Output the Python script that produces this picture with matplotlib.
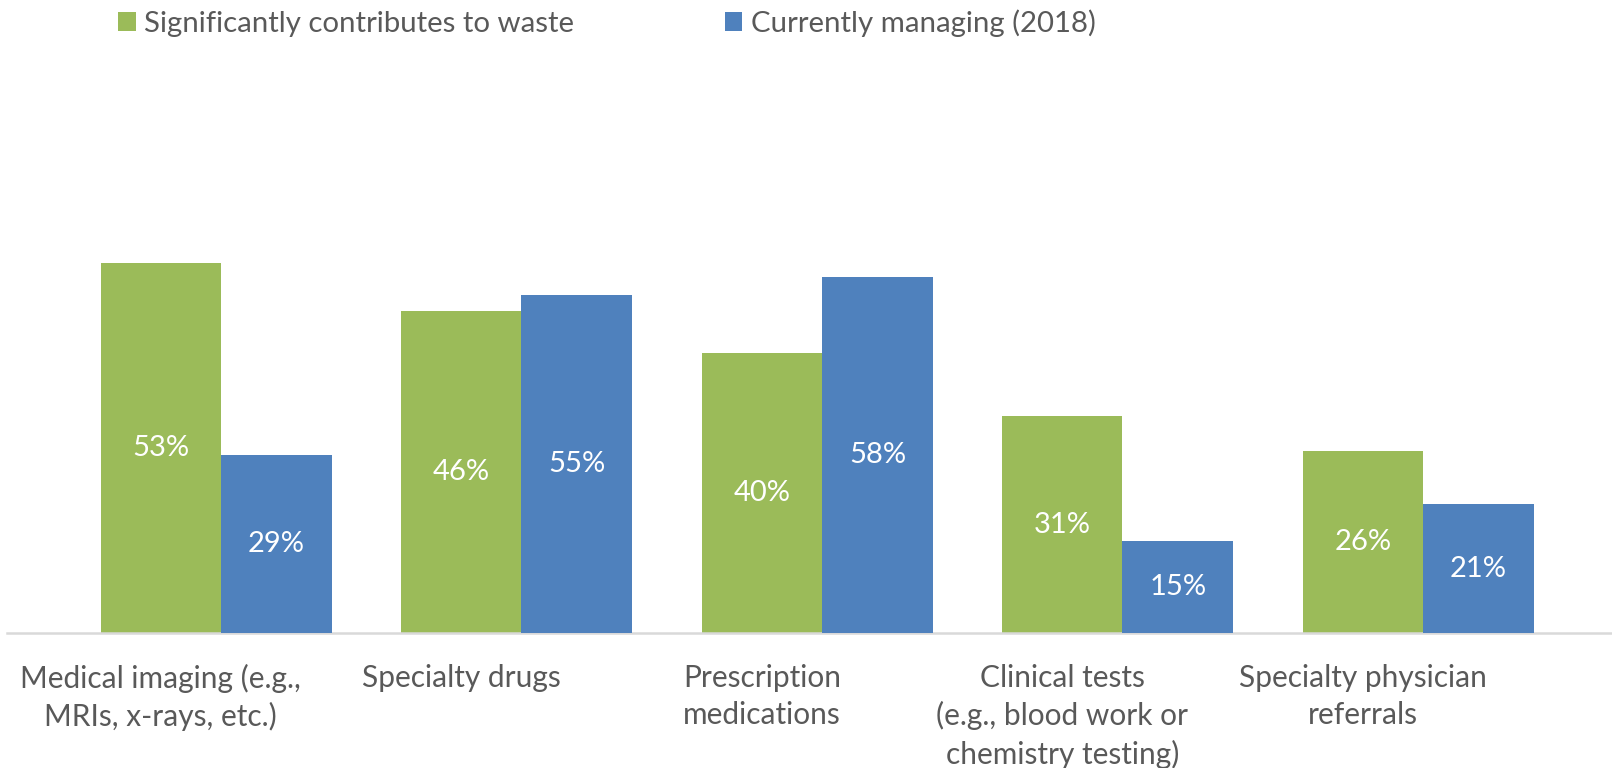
import matplotlib
matplotlib.use('Agg')
import matplotlib.pyplot as plt
import numpy as np

# chart data
categories = ['Medical imaging (e.g.,\nMRIs, x-rays, etc.)',
              'Specialty drugs\n\n',
              'Prescription\nmedications\n',
              'Clinical tests\n(e.g., blood work or\nchemistry testing)',
              'Specialty physician\nreferrals\n']
waste = [53, 46, 40, 31, 26]
managing = [29, 55, 58, 15, 21]
series_names = ['Significantly contributes to waste', 'Currently managing (2018)']

green = '#9BBB59'
blue = '#4F81BD'
text_gray = '#595959'

plt.rcParams['font.family'] = ['Lato', 'DejaVu Sans']

fig = plt.figure(figsize=(16.12, 7.68), dpi=100)
# axes from x=7px to right edge, baseline at y=633px, top at y=60px
ax = fig.add_axes([7 / 1612, (768 - 633) / 768, 1 - 7 / 1612, 573 / 768])
ax2 = ax.twinx()

x = np.arange(len(categories))
w1 = 0.4
w2 = 0.369
b1 = ax.bar(x - w1 / 2, waste, w1, color=green, label=series_names[0], zorder=2)
b2 = ax2.bar(x + w2 / 2, managing, w2, color=blue, label=series_names[1], zorder=2)

# the two series are drawn on different scales in the original
ax.set_ylim(0, 573 / 6.99)
ax2.set_ylim(0, 573 / 6.14)
ax.set_xlim(-0.712, 4.629)

for bars, vals, a in [(b1, waste, ax), (b2, managing, ax2)]:
    for bar, v in zip(bars, vals):
        a.text(bar.get_x() + bar.get_width() / 2, v / 2, f'{v}%',
               ha='center', va='center', color='white', fontsize=21)

for a in (ax, ax2):
    for s in ['top', 'left', 'right']:
        a.spines[s].set_visible(False)
    a.set_yticks([])
ax2.spines['bottom'].set_visible(False)
ax.spines['bottom'].set_color('#D9D9D9')
ax.spines['bottom'].set_linewidth(1.8)

ax.set_xticks(x - w1 / 2)
ax.set_xticklabels(categories, fontsize=21.5, color=text_gray, va='top',
                   linespacing=1.4)
ax.tick_params(axis='x', length=0, pad=22)

handles = [b1, b2]
fig.legend(handles, series_names, loc='center left', bbox_to_anchor=(118 / 1612, 1 - 23 / 768),
           ncol=2, frameon=False, fontsize=21.2, labelcolor=text_gray,
           handlelength=0.6, handleheight=0.6, handletextpad=0.3,
           columnspacing=5.1, borderpad=0, borderaxespad=0)

fig.savefig('out.png', dpi=100)
